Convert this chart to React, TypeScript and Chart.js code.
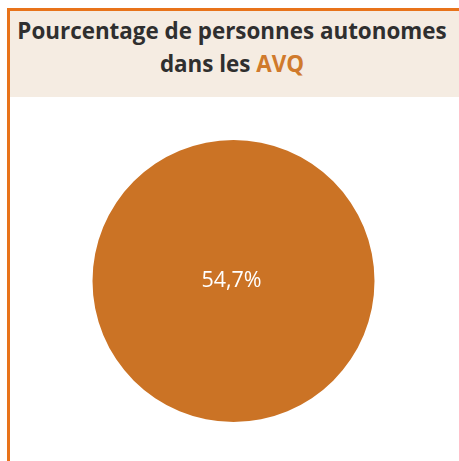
import React, { useEffect, useRef } from "react";
import { Chart, registerables } from "chart.js";

Chart.register(...registerables);

const titleLine1 = "Pourcentage de personnes autonomes";
const titleLine2Prefix = "dans les ";
const titleHighlight = "AVQ";
const categories = ["Autonomes dans les AVQ"];
const values = [54.7];
const valueLabels = ["54,7%"];

const ORANGE = "#CB7325";
const BORDER = "#E8731A";

const centerLabelPlugin = {
  id: "centerLabel",
  afterDatasetsDraw(chart: any) {
    const meta = chart.getDatasetMeta(0);
    const ctx = chart.ctx;
    meta.data.forEach((arc: any, i: number) => {
      const { x, y } = arc.getProps(["x", "y"], true);
      ctx.save();
      ctx.fillStyle = "#ffffff";
      ctx.font = "21.5px 'Open Sans', sans-serif";
      ctx.textAlign = "center";
      ctx.textBaseline = "middle";
      ctx.fillText(valueLabels[i], x - 2, y + 0);
      ctx.restore();
    });
  },
};

export default function App() {
  const ref = useRef<HTMLCanvasElement | null>(null);

  useEffect(() => {
    document.body.style.margin = "0";
    if (!ref.current) return;
    const chart = new Chart(ref.current, {
      type: "pie",
      data: {
        labels: categories,
        datasets: [
          {
            data: values,
            backgroundColor: [ORANGE],
            borderWidth: 0,
          },
        ],
      },
      options: {
        animation: false,
        responsive: false,
        maintainAspectRatio: false,
        layout: { padding: { left: 92, right: 84, top: 43, bottom: 39 } },
        plugins: {
          legend: { display: false },
          tooltip: { enabled: false },
          title: { display: false },
        },
      },
      plugins: [centerLabelPlugin],
    });
    return () => chart.destroy();
  }, []);

  const font = "'Open Sans', sans-serif";

  return (
    <div
      style={{
        position: "absolute",
        left: 0,
        top: 0,
        width: 459,
        height: 461,
        overflow: "hidden",
        background: "#ffffff",
      }}
    >
      <div
        style={{
          position: "absolute",
          left: 7,
          top: 8,
          width: 470,
          height: 480,
          borderLeft: `3px solid ${BORDER}`,
          borderTop: `3px solid ${BORDER}`,
        }}
      />
      <div
        style={{
          position: "absolute",
          left: 10,
          top: 11,
          width: 449,
          height: 86,
          background: "#F5ECE2",
        }}
      />
      <div
        style={{
          position: "absolute",
          left: 9,
          top: 14,
          width: 446,
          textAlign: "center",
          fontFamily: font,
          fontWeight: 700,
          fontSize: 22.4,
          lineHeight: "33px",
          color: "#2F2F2F",
          whiteSpace: "nowrap",
        }}
      >
        <div>{titleLine1}</div>
        <div>
          {titleLine2Prefix}
          <span style={{ color: "#D07A2C" }}>{titleHighlight}</span>
        </div>
      </div>
      <canvas
        ref={ref}
        width={459}
        height={364}
        style={{ position: "absolute", left: 0, top: 97, width: 459, height: 364 }}
      />
    </div>
  );
}
